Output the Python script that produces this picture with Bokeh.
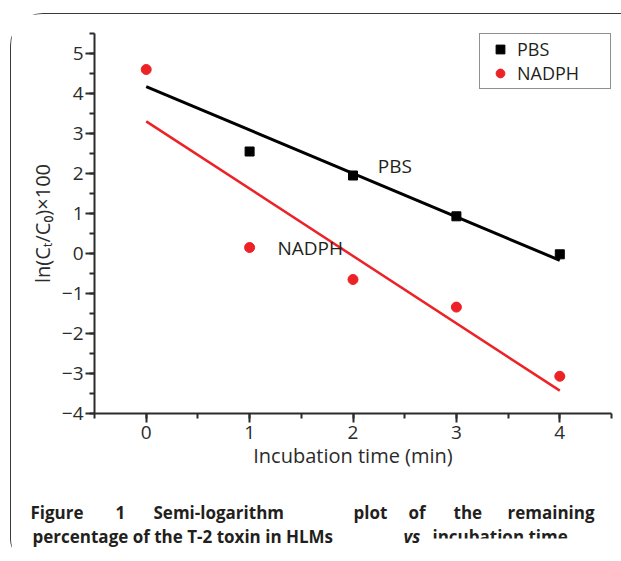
import numpy as np
from bokeh.plotting import figure
from bokeh.layouts import column
from bokeh.models import (SingleIntervalTicker, Legend, LegendItem, Label,
                          ColumnDataSource, Range1d)
from bokeh.core.properties import value
from bokeh.embed import file_html
from bokeh.resources import INLINE

# ---- data ----
time_min = [0, 1, 2, 3, 4]
pbs = [4.60, 2.55, 1.95, 0.93, -0.02]
nadph = [4.60, 0.15, -0.65, -1.34, -3.07]
series_names = ["PBS", "NADPH"]

# caption pieces
caption_line1 = ["Figure", "1", "Semi-logarithm", "plot", "of", "the", "remaining"]
caption_line2 = ["percentage of the T-2 toxin in HLMs", "vs", "incubation time."]

pbs_fit = np.polyfit(time_min, pbs, 1)
nadph_fit = np.polyfit(time_min, nadph, 1)
fit_x = [min(time_min), max(time_min)]
pbs_line = list(np.polyval(pbs_fit, fit_x))
nadph_line = list(np.polyval(nadph_fit, fit_x))

FONT = "Open Sans"
DARK = "#231f20"
RED = "#ec2227"

OX, OY = 11, 14                       # content origin on the page
W = 621 - OX
H1 = 465                               # chart height
H2 = 561 - OY - H1                     # caption height
FL, FT, FR, FB = 94 - OX, 33 - OY, 611 - OX, 413 - OY   # frame edges (canvas px)
X0, X1, Y0, Y1 = -0.5, 4.5, -4, 5.5

p = figure(width=W, height=H1, output_backend="svg", toolbar_location=None,
           x_range=Range1d(X0, X1), y_range=Range1d(Y0, Y1),
           min_border_left=FL, min_border_right=W - FR, min_border_top=FT,
           min_border_bottom=H1 - FB, background_fill_color="white",
           border_fill_color="white")
p.xgrid.visible = False
p.ygrid.visible = False
p.outline_line_color = None

p.line(fit_x, pbs_line, line_color="black", line_width=3)
p.line(fit_x, nadph_line, line_color=RED, line_width=2.5)
# the PBS point at t=0 is hidden under the NADPH point in the original
r_pbs = p.scatter(time_min[1:], pbs[1:], marker="square", size=9, color="black")
r_nadph = p.scatter(time_min, nadph, marker="circle", size=10, color=RED)

legend = Legend(items=[LegendItem(label=series_names[0], renderers=[r_pbs]),
                       LegendItem(label=series_names[1], renderers=[r_nadph])],
                location="top_right", margin=0, padding=3, spacing=0,
                glyph_width=34, glyph_height=22, label_height=22,
                label_width=90, label_standoff=0,
                border_line_color=DARK, border_line_width=1.5,
                label_text_font=FONT, label_text_font_size="18px",
                label_text_color=DARK, background_fill_alpha=1)
p.add_layout(legend)

for ax in (p.xaxis[0], p.yaxis[0]):
    ax.ticker = SingleIntervalTicker(interval=1, num_minor_ticks=2)
    ax.axis_line_width = 2
    ax.axis_line_color = "#2b2b2b"
    ax.major_tick_line_color = "#2b2b2b"
    ax.minor_tick_line_color = "#2b2b2b"
    ax.major_tick_line_width = 2
    ax.minor_tick_line_width = 2
    ax.major_tick_in = 0
    ax.major_tick_out = 9
    ax.minor_tick_in = 0
    ax.minor_tick_out = 5
    ax.major_label_text_font = FONT
    ax.major_label_text_font_size = "19px"
    ax.major_label_text_color = "#2b2b2b"
    ax.axis_label_text_font = FONT
    ax.axis_label_text_font_size = "20px"
    ax.axis_label_text_font_style = "normal"
    ax.axis_label_text_color = "#2b2b2b"

p.xaxis.axis_label = "Incubation time (min)"
p.yaxis.axis_label = "ln(C\u209C/C\u2080)\u00D7100"
p.xaxis.major_label_standoff = 3
p.xaxis.axis_label_standoff = 0
p.yaxis.major_label_standoff = 2
p.yaxis.axis_label_standoff = 3

# in-plot annotations
p.add_layout(Label(x=2.24, y=2.2, text="PBS", text_baseline="middle",
                   text_font=FONT, text_font_size="19px", text_color=DARK))
p.add_layout(Label(x=1.27, y=0.15, text="NADPH", text_baseline="middle",
                   text_font=FONT, text_font_size="19px", text_color=DARK))

# ---- caption figure (its frame is aligned with the chart frame) ----
CAP_FH = H2 - 23.45   # frame height left after one label row below
cap = figure(width=W, height=H2, output_backend="svg", toolbar_location=None,
             x_range=Range1d(FL, FR), y_range=Range1d(CAP_FH, 0),
             x_axis_type=None, y_axis_type=None, min_border=0,
             background_fill_color="white", border_fill_color="white")
cap.outline_line_color = None
cap.grid.visible = False

def cx(px):
    return px - OX

def cy(py):
    return py - OY - H1

L1_Y, L2_Y = 512, 536
l1_px = [30, 115, 153, 353, 408, 453, 507]
l2_px = [32, 403, 432]

# words inside the frame: text glyphs
src = ColumnDataSource(dict(x=[cx(v) for v in l1_px[1:]] + [cx(l2_px[2])],
                            y=[cy(L1_Y)] * (len(l1_px) - 1) + [cy(L2_Y)],
                            text=caption_line1[1:] + [caption_line2[2]]))
cap.text(x="x", y="y", text="text", source=src, text_baseline="alphabetic",
         text_align="left", text_font=value(FONT), text_font_size="17px",
         text_font_style="bold", text_color=DARK)

# pieces reaching outside the frame: labels in side panels (canvas units)
def cap_label(txt, px, py, style):
    return Label(x=cx(px), y=cy(py), x_units="canvas", y_units="canvas",
                 text=txt, text_baseline="alphabetic", text_font=FONT,
                 text_font_size="17px", text_font_style=style, text_color=DARK)

cap.add_layout(cap_label(caption_line1[0], l1_px[0], L1_Y, "bold"), "left")
cap.add_layout(cap_label(caption_line2[1], l2_px[1], L2_Y, "bold italic"), "left")
cap.add_layout(cap_label(caption_line2[0], l2_px[0], L2_Y, "bold"), "below")

layout = column(p, cap, spacing=0, margin=(13, 0, 0, 10),
                styles={"border-top": "1px solid #3a3a3a",
                        "border-left": "1px solid #3a3a3a",
                        "border-top-left-radius": "33px",
                        "border-bottom-left-radius": "22px"})

open("out.html", "w").write(file_html(layout, INLINE))
